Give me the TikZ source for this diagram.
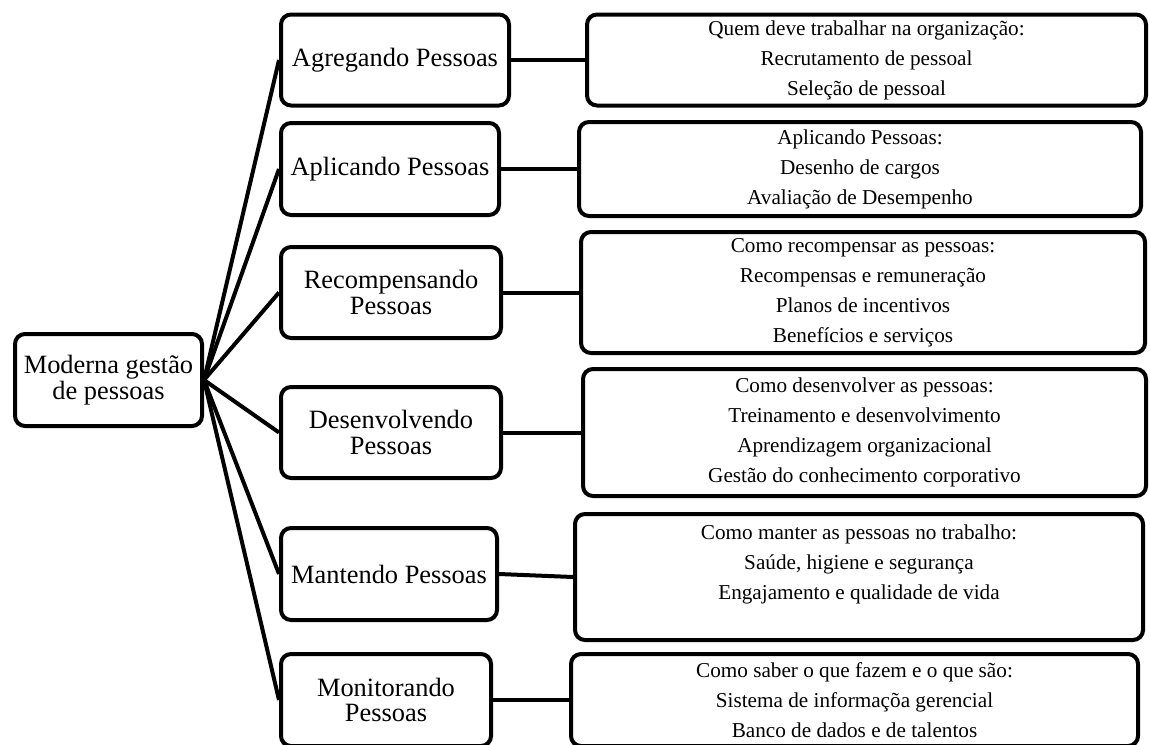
\documentclass[tikz,border=0pt]{standalone}
\usepackage{fontspec}
\setmainfont{Liberation Serif}
\usetikzlibrary{positioning}

\begin{document}
\begin{tikzpicture}[
  x=0.5pt, y=-0.5pt,
  box/.style={rounded corners=5pt, draw, line width=2pt, align=center, inner sep=0pt},
  area/.style={box, anchor=west, minimum height=45.5pt, font=\fontsize{13.2}{12.6}\selectfont},
  info/.style={box, font=\fontsize{10.6}{15}\selectfont},
  link/.style={line width=2pt}
]
\useasboundingbox (0,0) rectangle (1150,744);
\node[box, minimum width=93.5pt, minimum height=46pt, font=\fontsize{13.2}{13}\selectfont] (mod) at (108.5,380) {Moderna gestão\\de pessoas};
\node[area, minimum width=114pt] (agr) at (279,60) {Agregando Pessoas};
\node[area, minimum width=109pt, minimum height=46pt] (apl) at (279,169) {Aplicando Pessoas};
\node[area, minimum width=110pt] (rec) at (279,292.5) {Recompensando\\Pessoas};
\node[area, minimum width=110pt] (des) at (279,432.5) {Desenvolvendo\\Pessoas};
\node[area, minimum width=108pt, minimum height=46pt] (man) at (279,574) {Mantendo Pessoas};
\node[area, minimum width=105pt, minimum height=46pt] (mon) at (279,700) {Monitorando\\Pessoas};
\node[info, right=37pt of agr, minimum width=279.5pt, minimum height=45.5pt] (agrx) {Quem deve trabalhar na organização:\\Recrutamento de pessoal\\Seleção de pessoal};
\node[info, right=38pt of apl, minimum width=281pt, minimum height=47pt] (aplx) {Aplicando Pessoas:\\Desenho de cargos\\Avaliação de Desempenho};
\node[info, right=38pt of rec, minimum width=282pt, minimum height=60.5pt] (recx) {Como recompensar as pessoas:\\Recompensas e remuneração\\Planos de incentivos\\Benefícios e serviços};
\node[info, right=39pt of des, minimum width=281.5pt, minimum height=63.5pt] (desx) {Como desenvolver as pessoas:\\Treinamento e desenvolvimento\\Aprendizagem organizacional\\Gestão do conhecimento corporativo};
\node[info, right=37pt of man, yshift=-1.5pt, minimum width=284pt, minimum height=63pt] (manx) {Como manter as pessoas no trabalho:\\Saúde, higiene e segurança\\Engajamento e qualidade de vida\\ \mbox{}};
\node[info, right=38pt of mon, minimum width=283.5pt, minimum height=46pt] (monx) {Como saber o que fazem e o que são:\\Sistema de informaçõa gerencial\\Banco de dados e de talentos};
\draw[link] (mod.east) -- (agr.west);
\draw[link] (mod.east) -- (apl.west);
\draw[link] (mod.east) -- (rec.west);
\draw[link] (mod.east) -- (des.west);
\draw[link] (mod.east) -- (man.west);
\draw[link] (mod.east) -- (mon.west);
\draw[link] (agr.east) -- (agrx.west);
\draw[link] (apl.east) -- (aplx.west);
\draw[link] (rec.east) -- (recx.west);
\draw[link] (des.east) -- (desx.west);
\draw[link] (man.east) -- (manx.west);
\draw[link] (mon.east) -- (monx.west);
\end{tikzpicture}
\end{document}
